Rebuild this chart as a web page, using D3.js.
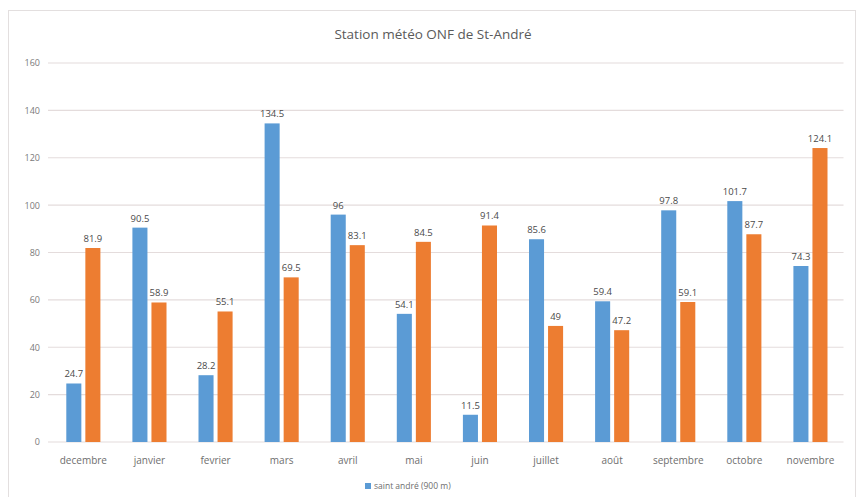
<!DOCTYPE html>
<html><head><meta charset="utf-8">
<script src="https://cdn.jsdelivr.net/npm/d3@7"></script>
<style>body{margin:0;background:#fff}svg{display:block}</style>
</head><body>
<script>
const categories = ["decembre","janvier","fevrier","mars","avril","mai","juin","juillet","août","septembre","octobre","novembre"];
const blueValues = [24.7, 90.5, 28.2, 134.5, 96, 54.1, 11.5, 85.6, 59.4, 97.8, 101.7, 74.3];
const orangeValues = [81.9, 58.9, 55.1, 69.5, 83.1, 84.5, 91.4, 49, 47.2, 59.1, 87.7, 124.1];
const yTicks = [0, 20, 40, 60, 80, 100, 120, 140, 160];
const title = "Station météo ONF de St-André";
const legendLabel = "saint andré (900 m)";

const W = 864, H = 497;
const colors = ["#5b9bd5", "#ed7d31"];
const svg = d3.select("body").append("svg").attr("width", W).attr("height", H);
const font = "'Open Sans', 'Liberation Sans', sans-serif";

svg.append("rect").attr("x", 8.5).attr("y", 10.5).attr("width", 847).attr("height", 490)
  .attr("fill", "#fff").attr("stroke", "#e3dfdf");

const x = d3.scaleBand().domain(categories).range([50.3, 843.5]).paddingInner(0).paddingOuter(0);
const xi = d3.scaleBand().domain([0, 1]).range([0, x.bandwidth()]).paddingInner(0.21).paddingOuter(0.84);
const y = d3.scaleLinear().domain([0, 160]).range([442, 63]);

// grid
svg.append("g").selectAll("line").data(yTicks).join("line")
  .attr("x1", 48).attr("x2", 843.5)
  .attr("y1", d => y(d)).attr("y2", d => y(d))
  .attr("stroke", "#e4dcdc").attr("stroke-width", 1.2);

// y axis labels
const yAxis = d3.axisLeft(y).tickValues(yTicks).tickSize(0).tickPadding(0);
const gy = svg.append("g").attr("transform", "translate(40,0)").call(yAxis);
gy.select(".domain").remove();
gy.selectAll("text").attr("font-family", font).attr("font-size", 9).attr("fill", "#7a7a7a");

// x axis labels
const xAxis = d3.axisBottom(x).tickSize(0).tickPadding(0);
const gx = svg.append("g").attr("transform", "translate(0,457)").call(xAxis);
gx.select(".domain").remove();
gx.selectAll("text").attr("font-family", font).attr("font-size", 10).attr("fill", "#6e6e6e");

const data = categories.map((c, i) => ({c, vals: [blueValues[i], orangeValues[i]]}));
const groups = svg.append("g").selectAll("g").data(data).join("g")
  .attr("transform", d => `translate(${x(d.c)},0)`);
groups.selectAll("rect").data(d => d.vals.map((v, k) => ({v, k}))).join("rect")
  .attr("x", d => xi(d.k)).attr("width", xi.bandwidth())
  .attr("y", d => y(d.v)).attr("height", d => y(0) - y(d.v))
  .attr("fill", d => colors[d.k]);
groups.selectAll("text").data(d => d.vals.map((v, k) => ({v, k}))).join("text")
  .attr("x", d => xi(d.k) + xi.bandwidth() / 2).attr("y", d => y(d.v) - 6)
  .attr("text-anchor", "middle").attr("font-family", font).attr("font-size", 9.5)
  .attr("fill", "#4a4a4a").text(d => d.v);

// title
svg.append("text").attr("x", 433).attr("y", 39).attr("text-anchor", "middle")
  .attr("font-family", font).attr("font-size", 13.5).attr("fill", "#5a5a5a").text(title);

// legend
svg.append("rect").attr("x", 365).attr("y", 483).attr("width", 6).attr("height", 6).attr("fill", colors[0]);
svg.append("text").attr("x", 374).attr("y", 489).attr("font-family", font).attr("font-size", 8.5)
  .attr("fill", "#6e6e6e").text(legendLabel);
</script>
</body></html>
